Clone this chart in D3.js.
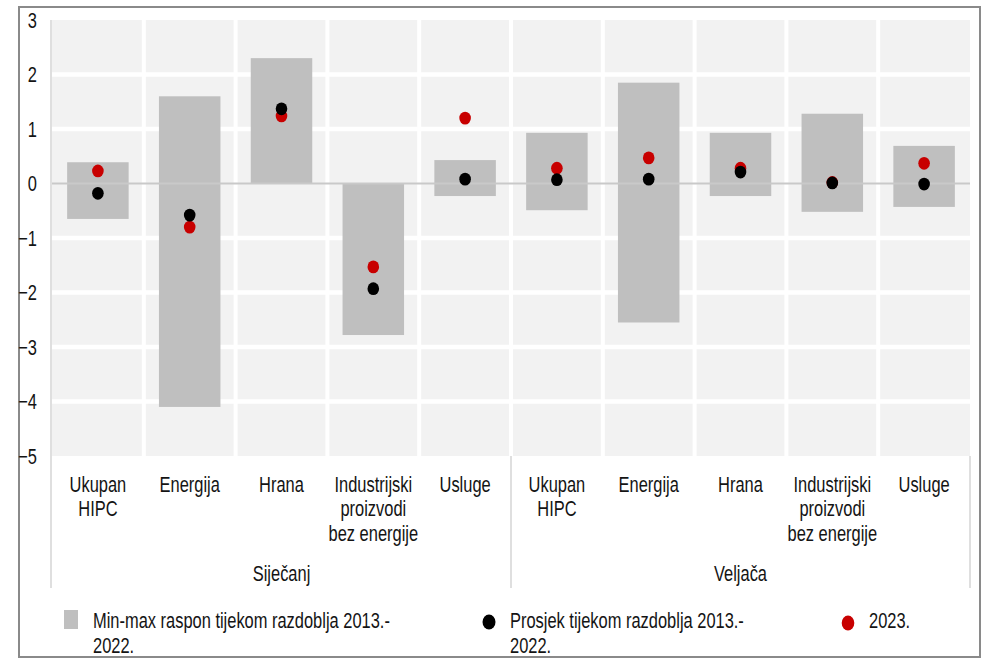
<!DOCTYPE html>
<meta charset="utf-8">
<html>
<head>
<script src="https://d3js.org/d3.v7.min.js"></script>
<style>
body { margin: 0; background: #fff; }
svg text {
  font-family: "Liberation Sans", Arial, sans-serif;
  font-size: 21.5px;
  fill: #141414;
}
</style>
</head>
<body>
<script>
// data
var months = ["Siječanj", "Veljača"];
var categories = ["Ukupan HIPC", "Energija", "Hrana", "Industrijski proizvodi bez energije", "Usluge"];
var catLines = [["Ukupan", "HIPC"], ["Energija"], ["Hrana"], ["Industrijski", "proizvodi", "bez energije"], ["Usluge"]];

var minJan = [-0.65, -4.1, 0, -2.78, -0.23];
var maxJan = [0.39, 1.6, 2.3, 0, 0.43];
var avgJan = [-0.18, -0.58, 1.37, -1.93, 0.08];
var curJan = [0.23, -0.8, 1.24, -1.53, 1.2];

var minFeb = [-0.49, -2.55, -0.23, -0.52, -0.43];
var maxFeb = [0.93, 1.85, 0.93, 1.28, 0.69];
var avgFeb = [0.07, 0.08, 0.21, 0.01, -0.01];
var curFeb = [0.28, 0.47, 0.28, 0.02, 0.37];

var yTicks = [3, 2, 1, 0, -1, -2, -3, -4, -5];
var legendLabels = [["Min-max raspon tijekom razdoblja 2013.-", "2022."],
                    ["Prosjek tijekom razdoblja 2013.-", "2022."],
                    ["2023."]];

var W = 982, H = 659;
var plotL = 52, plotR = 970, plotT = 20, plotB = 456;
var squeeze = 0.765; // narrow font look

// flat rows
var rows = [];
months.forEach(function(m, mi) {
  categories.forEach(function(c, ci) {
    rows.push({
      key: m + "|" + c, month: m, ci: ci,
      min: mi == 0 ? minJan[ci] : minFeb[ci],
      max: mi == 0 ? maxJan[ci] : maxFeb[ci],
      avg: mi == 0 ? avgJan[ci] : avgFeb[ci],
      cur: mi == 0 ? curJan[ci] : curFeb[ci]
    });
  });
});

var x = d3.scaleBand()
    .domain(rows.map(function(d) { return d.key; }))
    .range([plotL, plotR])
    .padding(0);

var y = d3.scaleLinear()
    .domain([-5, 3])
    .range([plotB, plotT]);

var svg = d3.select("body").append("svg")
    .attr("width", W)
    .attr("height", H);

// outer frame
svg.append("rect")
    .attr("x", 19).attr("y", 7)
    .attr("width", 961).attr("height", 650)
    .attr("fill", "none")
    .attr("stroke", "#8a8a8a")
    .attr("stroke-width", 2);

// plot background cells
svg.append("rect")
    .attr("x", plotL).attr("y", plotT)
    .attr("width", plotR - plotL).attr("height", plotB - plotT)
    .attr("fill", "#f2f2f2");

svg.selectAll("line.hgrid")
  .data(yTicks.filter(function(t) { return t < 3 && t > -5 && t != 0; }))
  .enter().append("line")
    .attr("class", "hgrid")
    .attr("x1", plotL).attr("x2", plotR)
    .attr("y1", function(d) { return y(d); })
    .attr("y2", function(d) { return y(d); })
    .attr("stroke", "#fff")
    .attr("stroke-width", 4.5);

svg.selectAll("line.vgrid")
  .data(rows.slice(1))
  .enter().append("line")
    .attr("class", "vgrid")
    .attr("x1", function(d) { return x(d.key); })
    .attr("x2", function(d) { return x(d.key); })
    .attr("y1", plotT).attr("y2", plotB)
    .attr("stroke", "#fff")
    .attr("stroke-width", 4);

// min-max bars
var bw = x.bandwidth() * 0.67;
svg.selectAll("rect.bar")
  .data(rows)
  .enter().append("rect")
    .attr("class", "bar")
    .attr("x", function(d) { return x(d.key) + (x.bandwidth() - bw) / 2; })
    .attr("width", bw)
    .attr("y", function(d) { return y(d.max); })
    .attr("height", function(d) { return y(d.min) - y(d.max); })
    .attr("fill", "#bfbfbf");

// zero line
svg.append("line")
    .attr("x1", plotL).attr("x2", plotR)
    .attr("y1", y(0)).attr("y2", y(0))
    .attr("stroke", "#c9c9c9")
    .attr("stroke-width", 2);

// dots: 2023 then average on top
function dots(cls, field, color) {
  svg.selectAll("ellipse." + cls)
    .data(rows)
    .enter().append("ellipse")
      .attr("class", cls)
      .attr("cx", function(d) { return x(d.key) + x.bandwidth() / 2; })
      .attr("cy", function(d) { return y(d[field]); })
      .attr("rx", 5.8).attr("ry", 6.4)
      .attr("fill", color);
}
dots("cur", "cur", "#c80000");
dots("avg", "avg", "#000");

// axis lines
svg.append("line")
    .attr("x1", 51).attr("x2", 51)
    .attr("y1", plotT).attr("y2", 588)
    .attr("stroke", "#d4d4d4").attr("stroke-width", 1.5);
[x(rows[5].key), plotR].forEach(function(px) {
  svg.append("line")
      .attr("x1", px).attr("x2", px)
      .attr("y1", plotB).attr("y2", 588)
      .attr("stroke", "#d4d4d4").attr("stroke-width", 1.5);
});

// y axis labels
var yAxis = svg.append("g")
    .attr("transform", "translate(" + plotL + ",0)")
    .call(d3.axisLeft(y).tickValues(yTicks).tickSize(0).tickFormat(d3.format("d")));
yAxis.select(".domain").remove();
yAxis.selectAll("text")
    .attr("fill", "#141414")
    .attr("font-size", null)
    .attr("font-family", null)
    .attr("x", -15 / squeeze)
    .attr("transform", "scale(" + squeeze + ",1)")
    .attr("dy", "0.33em");

// x axis: category labels (multi-line)
var xAxis = svg.append("g")
    .attr("transform", "translate(0," + plotB + ")")
    .call(d3.axisBottom(x).tickSize(0).tickFormat(""));
xAxis.select(".domain").remove();
xAxis.selectAll(".tick").each(function(d) {
  var row = rows.find(function(r) { return r.key == d; });
  var t = d3.select(this).append("text")
      .attr("text-anchor", "middle")
      .attr("transform", "scale(" + squeeze + ",1)")
      .attr("y", 36);
  catLines[row.ci].forEach(function(line, i) {
    t.append("tspan")
        .attr("x", 0)
        .attr("dy", i == 0 ? 0 : 24.5)
        .text(line);
  });
});

// month labels
svg.selectAll("text.month")
  .data(months)
  .enter().append("text")
    .attr("class", "month")
    .attr("text-anchor", "middle")
    .attr("transform", function(m, i) {
      var a = x(rows[i * 5].key), b = x(rows[i * 5 + 4].key) + x.bandwidth();
      return "translate(" + ((a + b) / 2) + ",581) scale(" + squeeze + ",1)";
    })
    .text(function(m) { return m; });

// legend
var legendX = [64, 489, 848];
var lg = svg.selectAll("g.legend")
  .data(legendLabels)
  .enter().append("g")
    .attr("class", "legend")
    .attr("transform", function(d, i) { return "translate(" + legendX[i] + ",0)"; });

lg.filter(function(d, i) { return i == 0; }).append("rect")
    .attr("x", 0).attr("y", 610)
    .attr("width", 14).attr("height", 19)
    .attr("fill", "#bfbfbf");
lg.filter(function(d, i) { return i == 1; }).append("ellipse")
    .attr("cx", 0).attr("cy", 622).attr("rx", 6.5).attr("ry", 7.5)
    .attr("fill", "#000");
lg.filter(function(d, i) { return i == 2; }).append("ellipse")
    .attr("cx", 0).attr("cy", 623).attr("rx", 6.3).attr("ry", 7.5)
    .attr("fill", "#c80000");

lg.append("text")
    .attr("transform", function(d, i) {
      return "translate(" + (i == 0 ? 29 : 21) + ",628) scale(" + squeeze + ",1)";
    })
    .each(function(d) {
      var t = d3.select(this);
      d.forEach(function(line, i) {
        t.append("tspan")
            .attr("x", 0)
            .attr("dy", i == 0 ? 0 : 25)
            .text(line);
      });
    });
</script>
</body>
</html>
